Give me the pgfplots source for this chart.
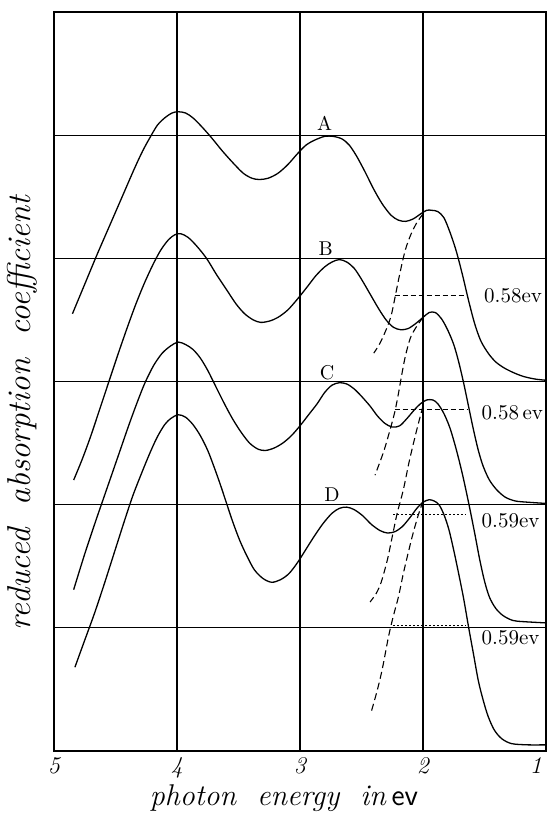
\documentclass[border=0pt]{standalone}
\usepackage{pgfplots}
\pgfplotsset{compat=1.18}
\begin{document}
\begin{tikzpicture}
\useasboundingbox (0,0) rectangle (273.5pt,406.5pt);
\begin{axis}[
  at={(27pt,31pt)}, anchor=south west,
  scale only axis, width=246pt, height=369.5pt,
  xmin=1, xmax=5, ymin=0, ymax=6,
  x dir=reverse,
  xtick={1,2,3,4,5}, xticklabels={\llap{1\,},2,3,4,5},
  ytick={1,2,3,4,5}, yticklabels={},
  major tick length=0pt,
  grid=major,
  grid style={black, line width=0.55pt},
  axis line style={black, line width=0.6pt},
  xticklabel style={font=\fontsize{12}{14}\selectfont\itshape, yshift=0.5pt},
  clip=false,
]
% curve A
\addplot[black, line width=0.65pt, smooth] coordinates {
(4.85,3.55) (4.75,3.79) (4.65,4.03) (4.55,4.26) (4.45,4.49) (4.35,4.72) (4.28,4.87) (4.22,4.98)
(4.16,5.08) (4.10,5.14) (4.04,5.18) (3.99,5.19) (3.93,5.18) (3.87,5.14) (3.80,5.07) (3.72,4.98)
(3.63,4.87) (3.54,4.77) (3.46,4.69) (3.39,4.65) (3.33,4.64) (3.26,4.65) (3.18,4.69) (3.10,4.76)
(3.02,4.85) (2.95,4.92) (2.88,4.96) (2.80,4.99) (2.73,4.99) (2.66,4.97) (2.60,4.92) (2.54,4.83)
(2.47,4.70) (2.40,4.56) (2.33,4.44) (2.26,4.35) (2.20,4.31) (2.14,4.30) (2.08,4.32) (2.02,4.36)
(1.97,4.39) (1.93,4.39) (1.88,4.38) (1.83,4.33) (1.78,4.21) (1.73,4.06) (1.68,3.87) (1.63,3.66)
(1.58,3.47) (1.53,3.33) (1.47,3.23) (1.41,3.16) (1.34,3.11) (1.26,3.07) (1.18,3.04) (1.09,3.02) (1.00,3.01)};
% curve B
\addplot[black, line width=0.65pt, smooth] coordinates {
(4.84,2.20) (4.77,2.37) (4.70,2.56) (4.63,2.77) (4.56,2.98) (4.48,3.22) (4.40,3.45) (4.33,3.64)
(4.26,3.81) (4.19,3.96) (4.13,4.07) (4.07,4.15) (4.02,4.19) (3.97,4.20) (3.91,4.17) (3.84,4.10)
(3.76,4.00) (3.68,3.87) (3.60,3.75) (3.52,3.63) (3.45,3.55) (3.38,3.50) (3.32,3.48) (3.25,3.49)
(3.18,3.52) (3.10,3.58) (3.02,3.67) (2.94,3.77) (2.87,3.86) (2.80,3.93) (2.74,3.97) (2.68,3.99)
(2.62,3.97) (2.56,3.92) (2.50,3.83) (2.43,3.71) (2.36,3.59) (2.30,3.50) (2.24,3.44) (2.18,3.42)
(2.12,3.43) (2.06,3.47) (2.00,3.52) (1.95,3.56) (1.90,3.56) (1.85,3.51) (1.80,3.42) (1.75,3.30)
(1.71,3.16) (1.67,2.99) (1.63,2.80) (1.59,2.61) (1.55,2.44) (1.51,2.31) (1.46,2.20) (1.40,2.12)
(1.33,2.06) (1.25,2.03) (1.15,2.02) (1.00,2.01)};
% curve C
\addplot[black, line width=0.65pt, smooth] coordinates {
(4.84,1.31) (4.75,1.60) (4.66,1.87) (4.57,2.13) (4.48,2.39) (4.39,2.65) (4.32,2.84) (4.26,2.99)
(4.19,3.13) (4.12,3.23) (4.05,3.29) (3.99,3.32) (3.93,3.30)
(3.87,3.26) (3.81,3.19) (3.75,3.09) (3.69,2.97) (3.62,2.83) (3.55,2.70) (3.48,2.59) (3.41,2.50)
(3.34,2.45) (3.28,2.44) (3.21,2.46) (3.14,2.50) (3.07,2.56) (3.00,2.64) (2.93,2.73) (2.86,2.82)
(2.80,2.91) (2.74,2.97) (2.68,2.99) (2.62,2.98) (2.56,2.94) (2.50,2.88) (2.43,2.80) (2.37,2.72)
(2.31,2.66) (2.25,2.63) (2.19,2.64) (2.13,2.70) (2.07,2.77) (2.02,2.82) (1.97,2.85) (1.92,2.85)
(1.88,2.82) (1.83,2.74) (1.78,2.62) (1.73,2.45) (1.68,2.25) (1.63,2.02) (1.58,1.77) (1.54,1.56)
(1.50,1.38) (1.46,1.25) (1.41,1.16) (1.35,1.10) (1.27,1.06) (1.18,1.05) (1.00,1.04)};
% curve D
\addplot[black, line width=0.65pt, smooth] coordinates {
(4.83,0.68) (4.75,0.90) (4.67,1.12) (4.59,1.36) (4.51,1.61) (4.43,1.86) (4.36,2.07) (4.29,2.25)
(4.22,2.42) (4.16,2.55) (4.10,2.65) (4.05,2.70) (3.99,2.73) (3.93,2.71)
(3.87,2.65) (3.81,2.56) (3.75,2.44) (3.70,2.31) (3.65,2.17) (3.60,2.02) (3.55,1.87) (3.49,1.71)
(3.43,1.58) (3.37,1.47) (3.30,1.40) (3.23,1.37) (3.16,1.39) (3.09,1.44) (3.02,1.53) (2.95,1.64)
(2.88,1.75) (2.81,1.85) (2.74,1.93) (2.68,1.97) (2.62,1.98) (2.56,1.96) (2.49,1.91) (2.42,1.84)
(2.35,1.79) (2.29,1.77) (2.23,1.78) (2.17,1.82) (2.11,1.89) (2.05,1.97) (2.00,2.02) (1.95,2.04)
(1.91,2.03) (1.87,2.00) (1.83,1.92) (1.79,1.80) (1.75,1.63) (1.71,1.44) (1.67,1.24) (1.63,1.01)
(1.59,0.79) (1.55,0.57) (1.51,0.41) (1.47,0.28) (1.42,0.17) (1.36,0.10) (1.28,0.06) (1.15,0.05) (1.00,0.05)};
% dashed low-energy band shapes
\addplot[black, line width=0.55pt, smooth, dash pattern=on 3.5pt off 2pt] coordinates {
(2.00,4.36) (2.05,4.29) (2.10,4.19) (2.14,4.08) (2.17,3.96) (2.20,3.82) (2.23,3.67) (2.26,3.53) (2.30,3.42) (2.35,3.31) (2.40,3.23)};
\addplot[black, line width=0.55pt, smooth, dash pattern=on 3.5pt off 2pt] coordinates {
(2.00,3.52) (2.05,3.45) (2.10,3.36) (2.14,3.22) (2.17,3.07) (2.20,2.90) (2.23,2.75) (2.27,2.60) (2.32,2.43) (2.39,2.24)};
\addplot[black, line width=0.55pt, smooth, dash pattern=on 3.5pt off 2pt] coordinates {
(2.00,2.80) (2.05,2.61) (2.11,2.36) (2.16,2.12) (2.21,1.93) (2.25,1.74) (2.29,1.55) (2.34,1.37) (2.38,1.28) (2.43,1.21)};
\addplot[black, line width=0.55pt, smooth, dash pattern=on 3.5pt off 2pt] coordinates {
(2.00,2.03) (2.04,1.91) (2.08,1.77) (2.12,1.61) (2.16,1.44) (2.20,1.25) (2.24,1.10) (2.28,0.93) (2.33,0.67) (2.37,0.50) (2.42,0.32)};
% half-width lines
\addplot[black, line width=0.45pt, dash pattern=on 2.5pt off 1.5pt] coordinates {(2.23,3.70) (1.64,3.70)};
\addplot[black, line width=0.45pt, dash pattern=on 2.5pt off 1.5pt] coordinates {(2.23,2.77) (1.64,2.77)};
\addplot[black, line width=0.45pt, dash pattern=on 1pt off 1pt] coordinates {(2.24,1.92) (1.65,1.92)};
\addplot[black, line width=0.45pt, dash pattern=on 1pt off 1pt] coordinates {(2.24,1.02) (1.65,1.02)};
% texts
\node[font=\fontsize{10.5}{12}\selectfont, anchor=west] at (axis cs:1.56,3.70) {0.58ev};
\node[font=\fontsize{10.5}{12}\selectfont, anchor=west] at (axis cs:1.58,2.75) {0.58\,ev};
\node[font=\fontsize{10.5}{12}\selectfont, anchor=west] at (axis cs:1.58,1.87) {0.59ev};
\node[font=\fontsize{10.5}{12}\selectfont, anchor=west] at (axis cs:1.58,0.92) {0.59ev};
\node[font=\fontsize{10}{12}\selectfont] at (axis cs:2.80,5.10) {A};
\node[font=\fontsize{10}{12}\selectfont] at (axis cs:2.79,4.08) {B};
\node[font=\fontsize{10}{12}\selectfont] at (axis cs:2.78,3.07) {C};
\node[font=\fontsize{10}{12}\selectfont] at (axis cs:2.74,2.08) {D};
\end{axis}
\node[font=\fontsize{15}{17}\selectfont] at (142pt,7.5pt) {\textit{photon\ \ energy\ \ in}\,{\sffamily ev}};
\node[rotate=90, font=\fontsize{16.5}{18}\selectfont\itshape] at (11pt,200pt) {reduced\ \ absorption\ \ coefficient};
\end{tikzpicture}
\end{document}
